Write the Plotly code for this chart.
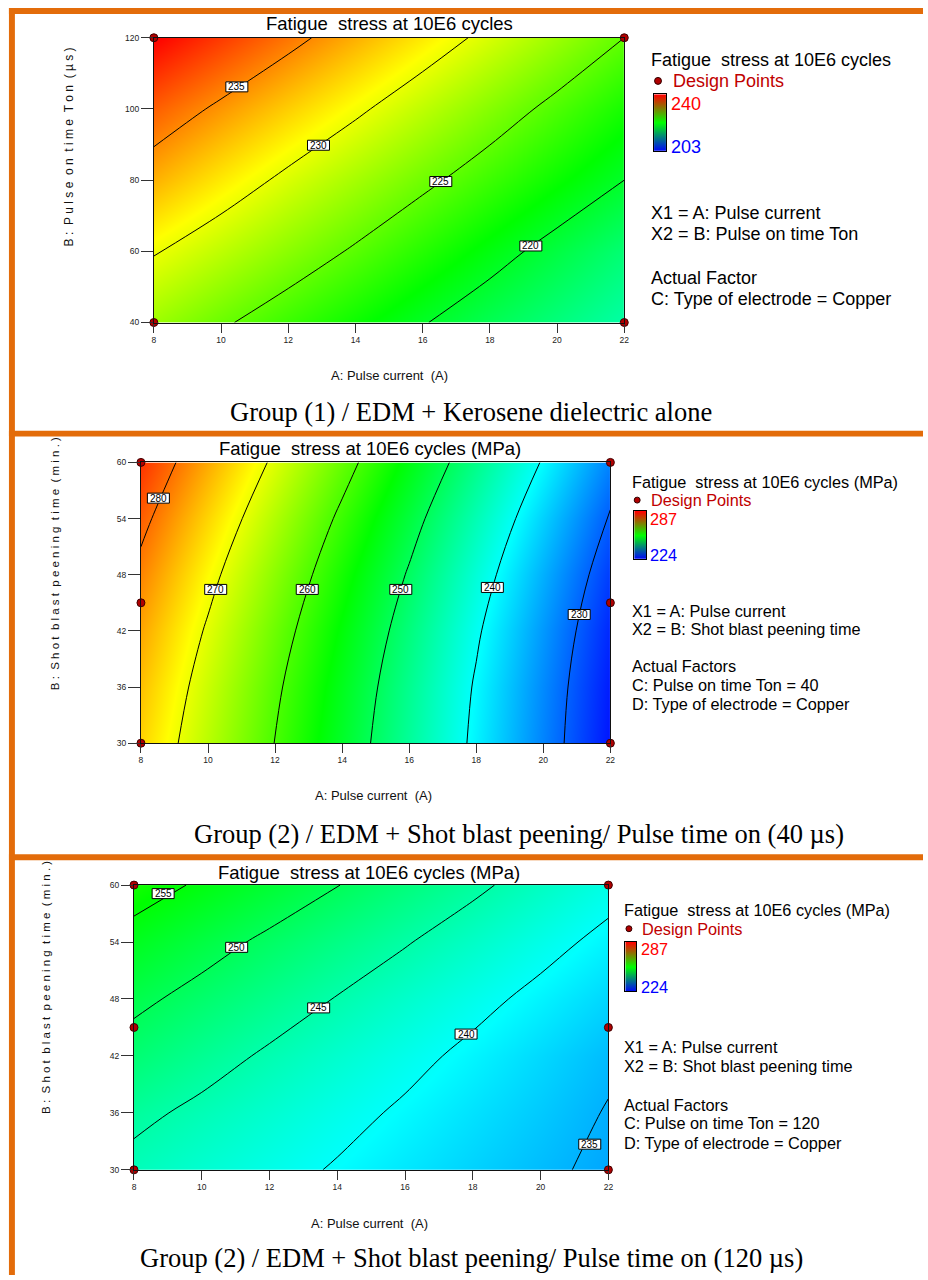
import plotly.graph_objects as go

W, H = 928, 1280


def px(x):
    return x / W


def py(y):
    return 1 - y / H


NB = "\u00a0"

# ---------------- data ----------------
current_ticks = [8, 10, 12, 14, 16, 18, 20, 22]

# Panel 1 : Kerosene dielectric alone
p1_current = [8, 10, 12, 14, 16, 18, 20, 22]
p1_ton = [40, 60, 80, 100, 120]
p1_stress = [
    [227.2, 225.35, 223.6, 221.9, 220.15, 218.5, 217.0, 215.45],
    [230.2, 228.37, 226.53, 224.69, 222.81, 220.94, 219.1, 217.3],
    [233.59, 231.48, 229.42, 227.5, 225.58, 223.7, 221.84, 220.0],
    [236.6, 234.53, 232.5, 230.46, 228.4, 226.34, 224.3, 222.3],
    [240.04, 237.9, 235.75, 233.6, 231.46, 229.3, 227.16, 225.0],
]
p1_range = [203, 240]
p1_levels = [220, 235, 5]
p1_label_values = [235, 230, 225, 220]
p1_label_x = [10.47, 12.9, 16.54, 19.22]
p1_label_y = [106.2, 89.8, 79.6, 61.5]
p1_design_x = [8, 8, 22, 22]
p1_design_y = [40, 120, 40, 120]
p1_yticks = [40, 60, 80, 100, 120]

# Panel 2 : shot blast peening, Ton = 40
p2_current = [8, 10, 12, 14, 16, 18, 20, 22]
p2_time = [30, 36, 42, 48, 54, 60]
p2_stress = [
    [273.88, 266.89, 259.9, 252.95, 245.99, 239.03, 232.14, 225.24],
    [275.09, 267.94, 260.79, 253.76, 246.67, 239.53, 232.55, 225.62],
    [276.72, 269.45, 262.18, 255.03, 247.86, 240.57, 233.45, 226.39],
    [278.81, 271.39, 264.05, 256.78, 249.57, 242.18, 234.91, 227.71],
    [281.2, 273.77, 266.39, 259.03, 251.75, 244.35, 236.95, 229.6],
    [283.85, 276.48, 269.15, 261.8, 254.43, 247.04, 239.62, 232.11],
]
p2_range = [224, 287]
p2_levels = [230, 280, 10]
p2_label_values = [280, 270, 260, 250, 240, 230]
p2_label_x = [8.52, 10.23, 12.96, 15.75, 18.48, 21.07]
p2_label_y = [56.18, 46.43, 46.43, 46.43, 46.64, 43.75]
p2_design_x = [8, 8, 8, 22, 22, 22]
p2_design_y = [30, 45, 60, 30, 45, 60]
time_ticks = [30, 36, 42, 48, 54, 60]

# Panel 3 : shot blast peening, Ton = 120
p3_current = [8, 10, 12, 14, 16, 18, 20, 22]
p3_time = [30, 36, 42, 48, 54, 60]
p3_stress = [
    [243.97, 242.54, 241.11, 239.7, 238.34, 236.99, 235.63, 234.28],
    [245.85, 244.2, 242.63, 241.05, 239.5, 237.98, 236.46, 234.8],
    [248.41, 246.42, 244.49, 242.74, 240.98, 239.21, 237.41, 235.6],
    [250.83, 248.83, 246.83, 244.84, 242.92, 241.0, 239.1, 237.2],
    [253.58, 251.4, 249.28, 247.26, 245.24, 243.19, 241.12, 239.09],
    [256.7, 254.49, 252.29, 250.09, 247.9, 245.71, 243.49, 241.26],
]
p3_range = [224, 287]
p3_levels = [235, 255, 5]
p3_label_values = [255, 250, 245, 240, 235]
p3_label_x = [8.86, 11.03, 13.45, 17.8, 21.45]
p3_label_y = [59.1, 53.44, 47.06, 44.3, 32.7]
p3_design_x = [8, 8, 8, 22, 22, 22]
p3_design_y = [30, 45, 60, 30, 45, 60]

legend_bar_values = [[0, 0], [1, 1], [2, 2]]

# ---------------- styles ----------------
SANS = "Liberation Sans, Arial, sans-serif"
SERIF = "Liberation Serif, Times New Roman, serif"
ORANGE = "#E36C0A"
DX_SCALE = [[0, "#0000ff"], [0.25, "#00ffff"], [0.5, "#00ff00"],
            [0.75, "#ffff00"], [1, "#ff0000"]]
BAR_SCALE = [[0, "#0000ff"], [0.5, "#00ff00"], [1, "#ff0000"]]


def spaced(words):
    return (NB * 2).join(NB.join(list(w)) for w in words)


panels = [
    dict(x=p1_current, y=p1_ton, z=p1_stress, rng=p1_range, lev=p1_levels,
         lv=p1_label_values, lx=p1_label_x, ly=p1_label_y,
         dx=p1_design_x, dy=p1_design_y, yt=p1_yticks,
         dom=(153, 627, 33, 320), bar=(657, 669, 90, 147),
         title="Fatigue" + NB + " stress at 10E6 cycles", title_xy=(390, 19), title_size=18.5,
         xt_xy=(390, 373), yt_xy=(67, 143), yt_size=12,
         ytitle=spaced(["B:", "Pulse", "on", "time", "Ton", "(µs)"]),
         leg_x=652, leg_size=18,
         leg_title=("Fatigue" + NB + " stress at 10E6 cycles", 55),
         dot=(661, 76.5, 3.5), dp=(674, 76.7),
         hi=("240", 672, 99.3), lo=("203", 672, 143.3),
         lines=[("X1 = A: Pulse current", 209.3),
                ("X2 = B: Pulse on time Ton", 230.7),
                ("Actual Factor", 275),
                ("C: Type of electrode = Copper", 296.7)],
         caption=("Group (1) / EDM + Kerosene dielectric alone", 473, 410)),
    dict(x=p2_current, y=p2_time, z=p2_stress, rng=p2_range, lev=p2_levels,
         lv=p2_label_values, lx=p2_label_x, ly=p2_label_y,
         dx=p2_design_x, dy=p2_design_y, yt=time_ticks,
         dom=(140, 613, 461, 744), bar=(637, 649, 510, 558),
         title="Fatigue" + NB + " stress at 10E6 cycles (MPa)", title_xy=(371, 447), title_size=18.5,
         xt_xy=(374, 797), yt_xy=(53, 563), yt_size=11.5,
         ytitle=spaced(["B:", "Shot", "blast", "peening", "time", "(min.)"]),
         leg_x=633, leg_size=16.3,
         leg_title=("Fatigue" + NB + " stress at 10E6 cycles (MPa)", 481),
         dot=(640, 499, 3), dp=(652, 499),
         hi=("287", 651, 517.7), lo=("224", 651, 554.3),
         lines=[("X1 = A: Pulse current", 611),
                ("X2 = B: Shot blast peening time", 629.3),
                ("Actual Factors", 666.7),
                ("C: Pulse on time Ton = 40", 685.7),
                ("D: Type of electrode = Copper", 704)],
         caption=("Group (2) / EDM + Shot blast peening/ Pulse time on (40 µs)", 521, 836)),
    dict(x=p3_current, y=p3_time, z=p3_stress, rng=p3_range, lev=p3_levels,
         lv=p3_label_values, lx=p3_label_x, ly=p3_label_y,
         dx=p3_design_x, dy=p3_design_y, yt=time_ticks,
         dom=(133, 611, 887, 1174), bar=(628, 639, 944, 994),
         title="Fatigue" + NB + " stress at 10E6 cycles (MPa)", title_xy=(370, 874), title_size=18.5,
         xt_xy=(370, 1228), yt_xy=(45, 990), yt_size=11.5,
         ytitle=spaced(["B:", "Shot", "blast", "peening", "time", "(min.)"]),
         leg_x=625, leg_size=16.3,
         leg_title=("Fatigue" + NB + " stress at 10E6 cycles (MPa)", 912.3),
         dot=(631.7, 931, 3), dp=(643.3, 931),
         hi=("287", 642, 951), lo=("224", 642, 990),
         lines=[("X1 = A: Pulse current", 1050),
                ("X2 = B: Shot blast peening time", 1069.3),
                ("Actual Factors", 1108.3),
                ("C: Pulse on time Ton = 120", 1127.3),
                ("D: Type of electrode = Copper", 1147.3)],
         caption=("Group (2) / EDM + Shot blast peening/ Pulse time on (120 µs)", 473, 1263)),
]

fig = go.Figure()
annotations = []
shapes = []
layout = {}

for i, p in enumerate(panels):
    n = i + 1
    xa = "x" if n == 1 else f"x{n}"
    ya = "y" if n == 1 else f"y{n}"
    xk = "xaxis" if n == 1 else f"xaxis{n}"
    yk = "yaxis" if n == 1 else f"yaxis{n}"
    x0, x1, y0, y1 = p["dom"]

    fig.add_trace(go.Contour(
        x=p["x"], y=p["y"], z=p["z"], xaxis=xa, yaxis=ya,
        colorscale=DX_SCALE, zmin=p["rng"][0], zmax=p["rng"][1],
        contours=dict(coloring="heatmap", start=p["lev"][0], end=p["lev"][1],
                      size=p["lev"][2], showlines=True, showlabels=False),
        line=dict(color="black", width=1), showscale=False, hoverinfo="skip"))

    fig.add_trace(go.Scatter(
        x=p["dx"], y=p["dy"], xaxis=xa, yaxis=ya, mode="markers",
        marker=dict(color="#B00000", size=8, line=dict(color="#400000", width=1)),
        cliponaxis=False, showlegend=False, hoverinfo="skip"))

    layout[xk] = dict(domain=[px(x0), px(x1)], range=[8, 22], anchor=ya,
                      tickvals=current_ticks, ticks="outside", ticklen=9,
                      tickcolor="#333", tickwidth=1,
                      tickfont=dict(family=SANS, size=8.5, color="#222"),
                      showline=True, linecolor="#111", linewidth=1, mirror=True,
                      showgrid=False, zeroline=False, fixedrange=True)
    layout[yk] = dict(domain=[py(y1), py(y0)], range=[p["yt"][0], p["yt"][-1]], anchor=xa,
                      tickvals=p["yt"], ticks="outside", ticklen=12,
                      tickcolor="#333", tickwidth=1,
                      tickfont=dict(family=SANS, size=8.5, color="#222"),
                      showline=True, linecolor="#111", linewidth=1, mirror=True,
                      showgrid=False, zeroline=False, fixedrange=True)

    # contour labels: white boxes with value text
    for v, lx, ly in zip(p["lv"], p["lx"], p["ly"]):
        shapes.append(dict(type="rect", xref=xa, yref=ya, xsizemode="pixel", ysizemode="pixel",
                           xanchor=lx, yanchor=ly, x0=-11, x1=11, y0=-5, y1=5,
                           fillcolor="white", line=dict(color="black", width=1), layer="above"))
        annotations.append(dict(x=lx, y=ly, xref=xa, yref=ya, text=str(v), showarrow=False,
                                font=dict(family=SANS, size=10, color="black"),
                                xanchor="center", yanchor="middle"))

    # legend colour bar (separate small axes)
    bn = n + 3
    bxk, byk = f"xaxis{bn}", f"yaxis{bn}"
    bx0, bx1, by0, by1 = p["bar"]
    fig.add_trace(go.Heatmap(z=legend_bar_values, x=[0, 1], y=[0, 1, 2],
                             xaxis=f"x{bn}", yaxis=f"y{bn}", colorscale=BAR_SCALE,
                             zsmooth="best", showscale=False, hoverinfo="skip"))
    layout[bxk] = dict(domain=[px(bx0), px(bx1)], range=[0, 1], anchor=f"y{bn}",
                       showticklabels=False, ticks="", showgrid=False, zeroline=False,
                       showline=True, mirror=True, linecolor="black", linewidth=1)
    layout[byk] = dict(domain=[py(by1), py(by0)], range=[0, 2], anchor=f"x{bn}",
                       showticklabels=False, ticks="", showgrid=False, zeroline=False,
                       showline=True, mirror=True, linecolor="black", linewidth=1)

    # titles
    tx, ty = p["title_xy"]
    annotations.append(dict(x=px(tx), y=py(ty), xref="paper", yref="paper", text=p["title"],
                            showarrow=False, xanchor="center", yanchor="middle",
                            font=dict(family=SANS, size=p["title_size"], color="black")))
    ax_, ay_ = p["xt_xy"]
    annotations.append(dict(x=px(ax_), y=py(ay_), xref="paper", yref="paper",
                            text="A: Pulse current" + NB + " (A)",
                            showarrow=False, xanchor="center", yanchor="middle",
                            font=dict(family=SANS, size=13, color="#111")))
    bx_, by_ = p["yt_xy"]
    annotations.append(dict(x=px(bx_), y=py(by_), xref="paper", yref="paper",
                            text=p["ytitle"], textangle=-90,
                            showarrow=False, xanchor="center", yanchor="middle",
                            font=dict(family=SANS, size=p["yt_size"], color="#111")))

    # legend texts
    lx0 = p["leg_x"]
    ls = p["leg_size"]
    annotations.append(dict(x=px(lx0), y=py(p["leg_title"][1]), xref="paper", yref="paper",
                            text=p["leg_title"][0], showarrow=False, xanchor="left",
                            yanchor="middle", font=dict(family=SANS, size=ls, color="black")))
    cx, cy, r = p["dot"]
    shapes.append(dict(type="circle", xref="paper", yref="paper",
                       x0=px(cx - r), x1=px(cx + r), y0=py(cy + r), y1=py(cy - r),
                       fillcolor="#B00000", line=dict(color="#300000", width=1)))
    annotations.append(dict(x=px(p["dp"][0]), y=py(p["dp"][1]), xref="paper", yref="paper",
                            text="Design Points", showarrow=False, xanchor="left",
                            yanchor="middle", font=dict(family=SANS, size=ls, color="#C00000")))
    for (t, tx_, ty_), col in ((p["hi"], "#FF0000"), (p["lo"], "#0000FF")):
        annotations.append(dict(x=px(tx_), y=py(ty_), xref="paper", yref="paper", text=t,
                                showarrow=False, xanchor="left", yanchor="middle",
                                font=dict(family=SANS, size=ls, color=col)))
    for t, ty_ in p["lines"]:
        annotations.append(dict(x=px(lx0), y=py(ty_), xref="paper", yref="paper", text=t,
                                showarrow=False, xanchor="left", yanchor="middle",
                                font=dict(family=SANS, size=ls, color="black")))

    # caption
    ct, ccx, ccy = p["caption"]
    annotations.append(dict(x=px(ccx), y=py(ccy), xref="paper", yref="paper", text=ct,
                            showarrow=False, xanchor="center", yanchor="middle",
                            font=dict(family=SERIF, size=26.5, color="black")))

# orange frame lines
for (a, b, c, d) in [(7, 928, 3, 9), (7, 13, 3, 1280), (7, 928, 429, 435), (7, 928, 856, 862)]:
    shapes.append(dict(type="rect", xref="paper", yref="paper",
                       x0=px(a), x1=px(b), y0=py(d), y1=py(c),
                       fillcolor=ORANGE, line=dict(width=0), layer="above"))

fig.update_layout(
    width=W, height=H, margin=dict(l=0, r=0, t=0, b=0),
    paper_bgcolor="white", plot_bgcolor="white", showlegend=False,
    annotations=annotations, shapes=shapes, **layout)

fig.write_html("out.html", config={"displayModeBar": False},
               post_script="document.body.style.margin='0';document.body.style.overflow='hidden';")
